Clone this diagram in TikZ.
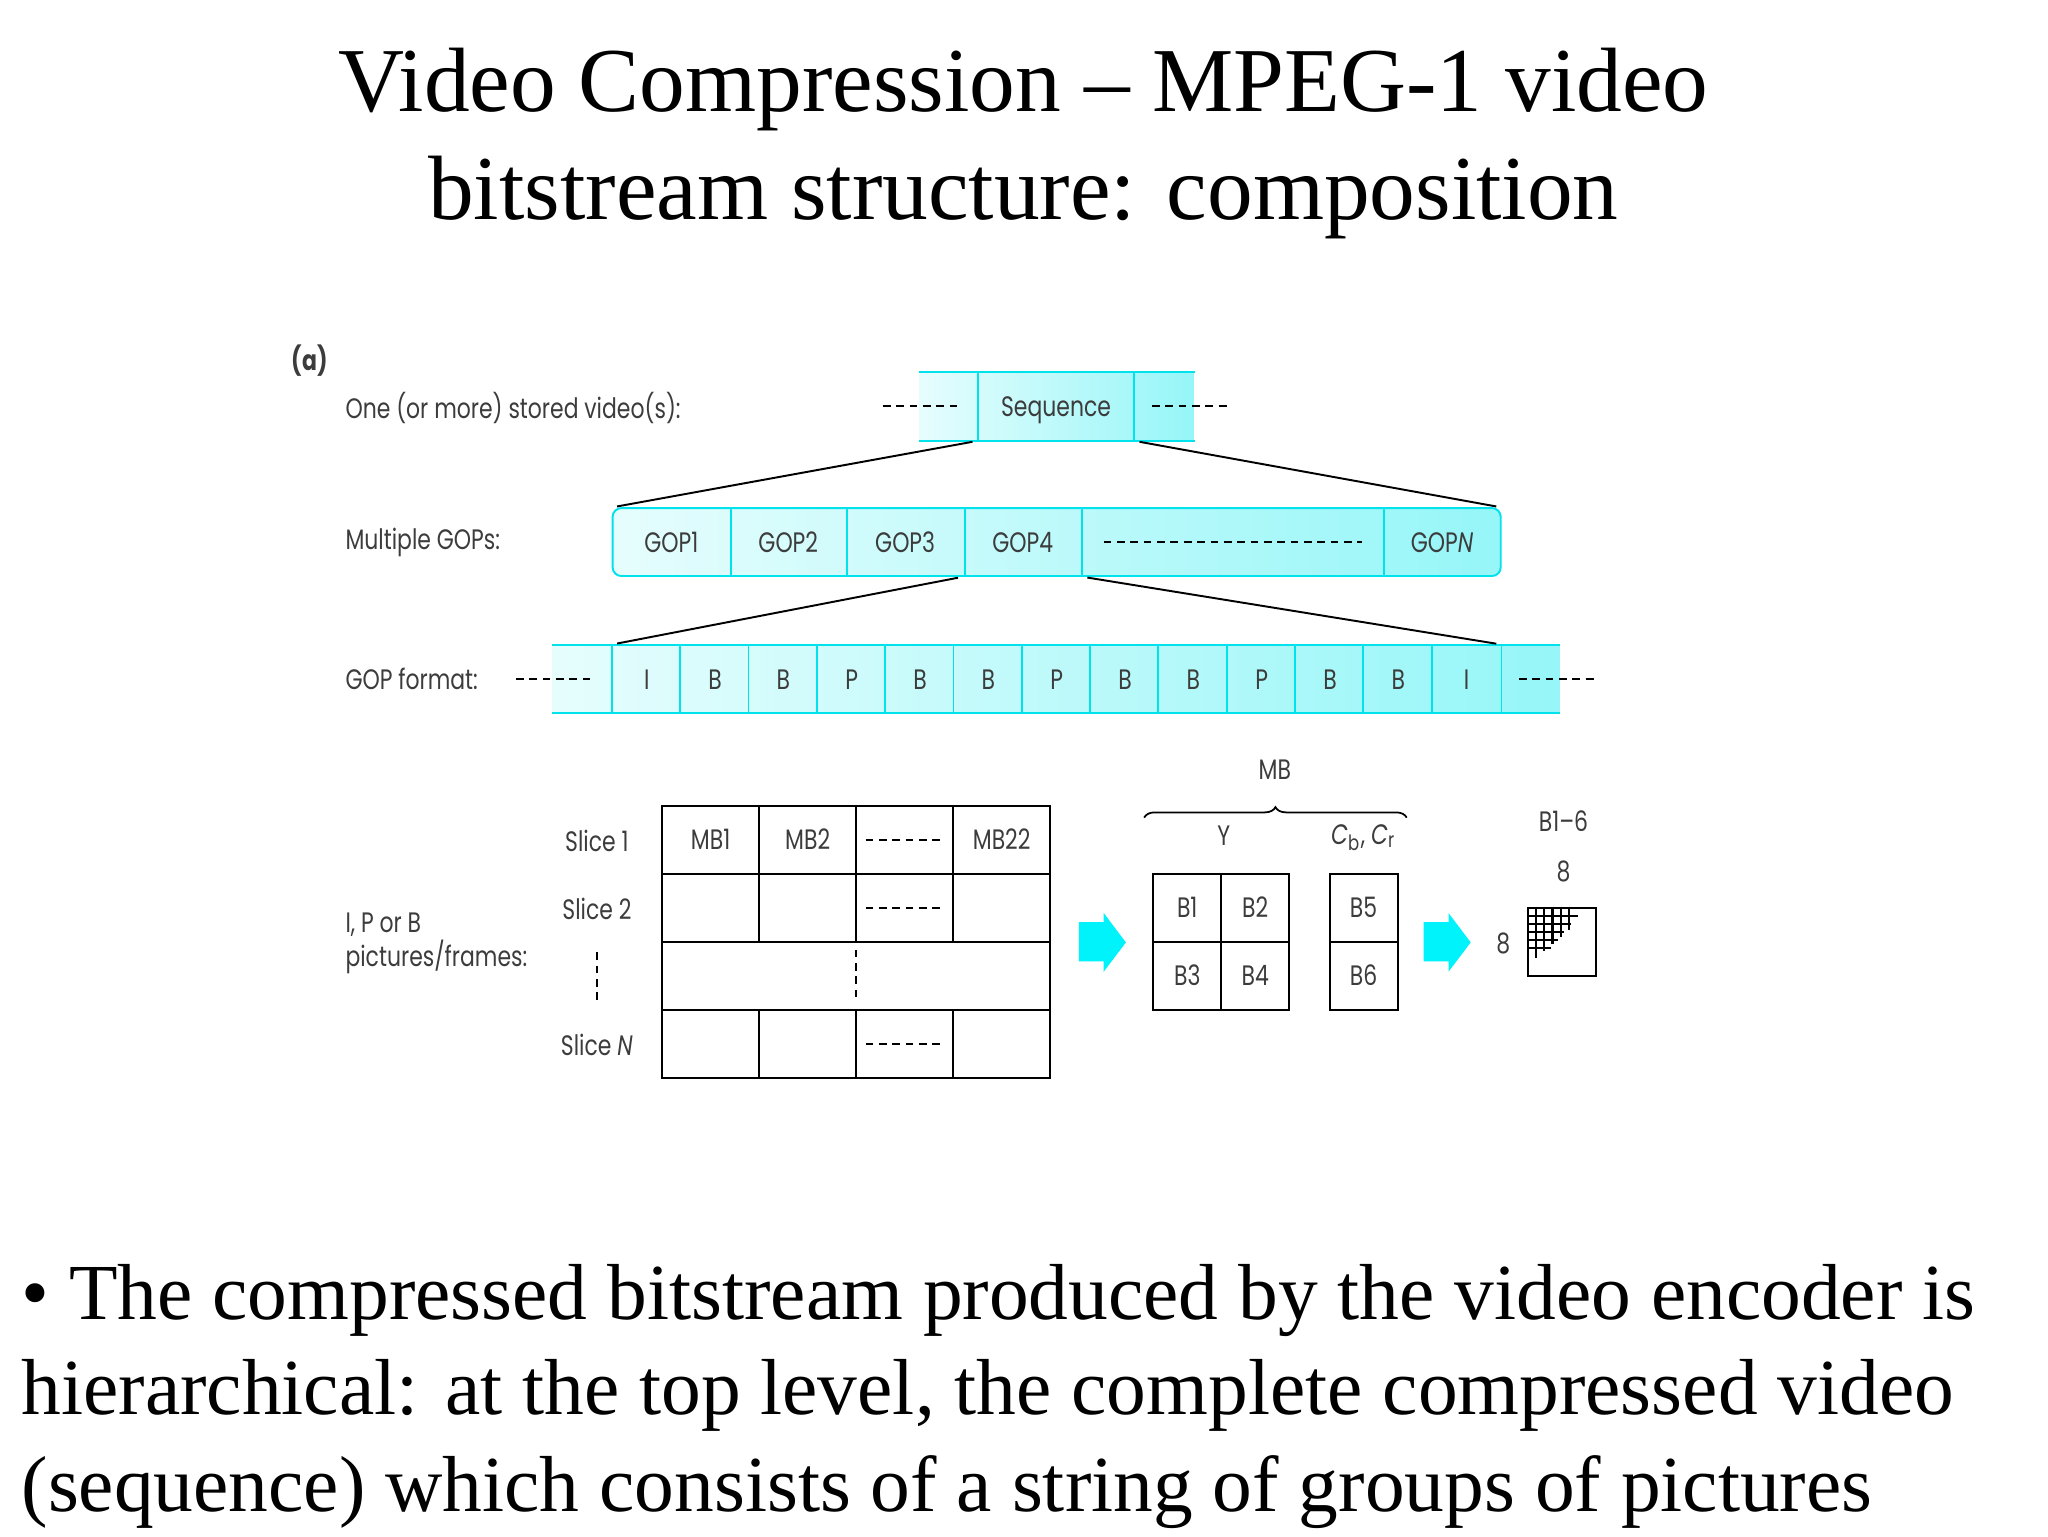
\documentclass[tikz,border=0pt]{standalone}
\usepackage{fontspec}
\setmainfont{Liberation Serif}
\newfontfamily\figfont[FakeStretch=0.78]{Poppins}
\usetikzlibrary{calc,decorations.pathreplacing}

\definecolor{rimcyan}{RGB}{0,226,236}
\definecolor{palecyan}{RGB}{230,253,253}
\definecolor{deepcyan}{RGB}{150,246,248}
\definecolor{arrowcyan}{RGB}{0,242,250}
\definecolor{labelgray}{RGB}{60,60,60}

\newcommand{\dpx}{0.3716pt}

\tikzset{
  figtext/.style={font=\figfont\fontsize{8}{9.6}\selectfont, text=labelgray, inner sep=0},
  cell/.style={figtext, minimum height=52*\dpx, text height=5.7pt, text depth=0pt, anchor=center},
  mbcell/.style={cell, draw=black, line width=0.6pt, minimum width=74.25*\dpx},
  bcell/.style={cell, draw=black, line width=0.6pt, minimum width=52*\dpx},
  rim/.style={draw=rimcyan, line width=0.55pt},
  dashline/.style={black, line width=0.55pt, dash pattern=on 2.2pt off 1.6pt},
  link/.style={black, line width=0.55pt, shorten <=1.5pt, shorten >=1.5pt},
  titletext/.style={font=\fontsize{26}{31}\selectfont, inner sep=0, anchor=base},
  bodytext/.style={font=\fontsize{22.6}{27}\selectfont, inner sep=0, anchor=base west}
}

\begin{document}
\begin{tikzpicture}[x=\dpx, y=-\dpx]
    \useasboundingbox (0,0) rectangle (1568,1176);

    \node[titletext] (title1) at (783.5,85) {Video Compression – MPEG-1 video};
    \node[titletext] (title2) at (783.5,168) {bitstream structure: composition};

    \node[figtext] (tag) at (237,276) {\bfseries (a)};
    \node[figtext, anchor=west] (lseq) at (264,312) {One (or more) stored video(s):};
    \node[figtext, anchor=west] (lgop) at (264,415) {Multiple GOPs:};
    \node[figtext, anchor=west] (lfmt) at (264,520) {GOP format:};
    \node[figtext, anchor=west, align=left] (lpic) at (264,722) {I, P or B\\pictures/frames:};

    % sequence
    \fill[left color=palecyan, right color=deepcyan] (704,285) rectangle (914,337);
    \node[cell, minimum width=45*\dpx] (seqa) at (726.5,311) {};
    \node[cell, minimum width=119*\dpx] (seq) at (808.5,311) {Sequence};
    \node[cell, minimum width=46*\dpx] (seqb) at (891,311) {};
    \draw[rim] (seqa.north west) -- (seqb.north east) (seqa.south west) -- (seqb.south east)
        (seq.north west) -- (seq.south west) (seq.north east) -- (seq.south east);
    \draw[dashline] (676,311) -- (737,311);
    \draw[dashline] (882,311) -- (942,311);

    % GOPs
    \filldraw[rim, left color=palecyan, right color=deepcyan, rounded corners=2.5pt] (469,389) rectangle (1149,441);
    \foreach \x/\w/\n/\lab in {514/90/gop1/GOP1, 603.5/89/gop2/GOP2, 693/90/gop3/GOP3,
        783/90/gop4/GOP4, 943.5/231/gopdots/{}, 1104/90/gopN/GOP\textit{N}} {
        \node[cell, minimum width=\w*\dpx] (\n) at (\x,415) {\lab};
    }
    \foreach \n in {gop1,gop2,gop3,gop4,gopdots}
        \draw[rim] (\n.north east) -- (\n.south east);
    \draw[dashline] (845,415) -- (1043,415);

    \draw[link] (seq.south west) -- (gop1.north west);
    \draw[link] (seq.south east) -- (gopN.north east);

    % GOP format
    \fill[left color=palecyan, right color=deepcyan] (423,494) rectangle (1194,546);
    \foreach \t [count=\i] in {I,B,B,P,B,B,P,B,B,P,B,B,I}
        \node[cell, minimum width=52.31*\dpx] (f\i) at ({469+52.31*(\i-0.5)},520) {\t};
    \draw[rim] (423,494) -- (1194,494) (423,546) -- (1194,546);
    \foreach \i in {1,...,13}
        \draw[rim] (f\i.north west) -- (f\i.south west);
    \draw[rim] (f13.north east) -- (f13.south east);
    \draw[dashline] (395,520) -- (456,520);
    \draw[dashline] (1163,520) -- (1222,520);

    \draw[link] (gop4.south west) -- (f1.north west);
    \draw[link] (gop4.south east) -- (f13.north east);

    % slices
    \node[figtext] (s1) at (457,644) {Slice 1};
    \node[figtext] (s2) at (457,696) {Slice 2};
    \node[figtext] (sN) at (457,800) {Slice \textit{N}};
    \draw[dashline] (457,729) -- (457,766);

    \node[mbcell] (m11) at (544.1,643) {MB1};
    \node[mbcell] (m12) at (618.4,643) {MB2};
    \node[mbcell] (m13) at (692.6,643) {};
    \node[mbcell] (m14) at (766.9,643) {MB22};
    \foreach \r/\y in {2/695,4/799}
        \foreach \c in {1,...,4}
            \node[mbcell] (m\r\c) at ({507+74.25*(\c-0.5)},\y) {};
    \node[mbcell, minimum width=297*\dpx] (m3) at (655.5,747) {};
    \foreach \r in {1,2,4}
        \draw[dashline] ($(m\r3.west)+(8,0)$) -- ($(m\r3.east)+(-8,0)$);
    \draw[dashline] (655.5,727) -- (655.5,766);

    % block arrows
    \foreach \x in {826,1090}
        \fill[arrowcyan] (\x,706) -- ++(19,0) -- ++(0,-7) -- ++(17,22.5) -- ++(-17,22.5)
            -- ++(0,-8) -- ++(-19,0) -- cycle;

    % macroblock
    \node[bcell] (b1) at (909,695) {B1};
    \node[bcell] (b2) at (961,695) {B2};
    \node[bcell] (b3) at (909,747) {B3};
    \node[bcell] (b4) at (961,747) {B4};
    \node[bcell] (b5) at (1044,695) {B5};
    \node[bcell] (b6) at (1044,747) {B6};
    \node[figtext] (ylab) at (937,640) {Y};
    \node[figtext] (clab) at (1044,641) {\textit{C}\textsubscript{b}, \textit{C}\textsubscript{r}};
    \draw[decorate, decoration={brace, amplitude=3pt}, line width=0.5pt] (876,626) -- (1077,626);
    \node[figtext] (mblab) at (976,589) {MB};

    % 8x8 block
    \node[draw, line width=0.6pt, minimum size=52*\dpx, inner sep=0] (blk) at (1196,721) {};
    \foreach \k in {1,...,5} {
        \pgfmathsetmacro{\o}{7+6.2*(\k-1)}
        \pgfmathsetmacro{\len}{39-5.2*(\k-1)}
        \draw[line width=0.6pt] ($(blk.north west)+(0,\o)$) -- ++(\len,0);
        \draw[line width=0.6pt] ($(blk.north west)+(\o,0)$) -- ++(0,\len);
    }
    \node[figtext] (eightL) at (1151,722) {8};
    \node[figtext] (eightT) at (1197,667) {8};
    \node[figtext] (brange) at (1197,629) {B1–6};

    \node[bodytext] (line1) at (16,1010) {\textbullet\ The compressed bitstream produced by the video encoder is};
    \node[bodytext] (line2) at (16,1083) {hierarchical: at the top level, the complete compressed video};
    \node[bodytext] (line3) at (16,1157) {(sequence) which consists of a string of groups of pictures};

\end{tikzpicture}
\end{document}
